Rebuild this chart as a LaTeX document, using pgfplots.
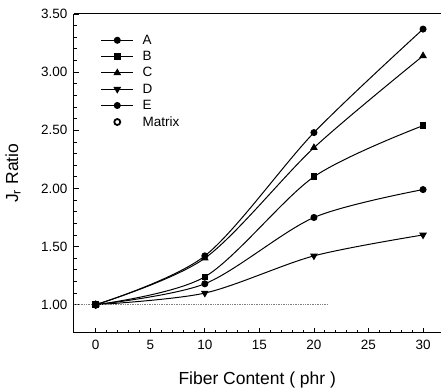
\documentclass[border=0pt]{standalone}
\usepackage{pgfplots}
\pgfplotsset{compat=1.18}
\usepackage{fontspec}
\setmainfont{Liberation Sans}
\pgfplotsset{
  linelegend/.style={legend image code/.code={\draw[mark repeat=2,mark phase=2,##1] plot coordinates {(0cm,0cm) (0.56cm,0cm) (1.12cm,0cm)};}},
  marklegend/.style={legend image code/.code={\draw[##1] plot coordinates {(0.56cm,0cm)};}},
}
\begin{document}
\begin{tikzpicture}
\begin{axis}[
  name=ax,
  scale only axis,
  width=367pt, height=319pt,
  xmin=-2.0, xmax=31.6,
  ymin=0.76, ymax=3.5,
  clip=true,
  axis x line*=box, axis y line*=left,
  xtick pos=bottom, ytick pos=left,
  tick align=inside,
  xtick={0,5,...,30},
  ytick={1,1.5,...,3.5},
  minor x tick num=4, minor y tick num=4,
  major tick length=5pt, minor tick length=3pt,
  every tick/.style={black, line width=0.8pt},
  every minor tick/.style={black, line width=0.8pt},
  axis line style={line width=1pt},
  /pgf/number format/assume math mode=true,
  yticklabel style={/pgf/number format/fixed, /pgf/number format/fixed zerofill, /pgf/number format/precision=2, xshift=-3pt},
  ticklabel style={font=\fontsize{13.5}{15}\selectfont},
  xticklabel style={yshift=-4pt},
  xlabel={Fiber Content ( phr )},
  ylabel={J$_{\mathrm{r}}$ Ratio},
  label style={font=\fontsize{17.5}{20}\selectfont},
  xlabel style={at={(axis description cs:0.5,-0.15)}, anchor=center},
  ylabel style={at={(axis description cs:-0.166,0.5)}, anchor=center},
  legend style={draw=none, fill=none, at={(0.073,0.935)}, anchor=north west,
    font=\fontsize{13.5}{15}\selectfont, row sep=5.5pt, inner sep=0pt,
    nodes={inner sep=0pt},
    /tikz/every odd column/.append style={column sep=9pt}},
  legend cell align=left,
  linelegend,
]
\addplot[black, line width=1pt, smooth, mark=*, mark size=3pt, mark options={solid, fill=black}] coordinates {(0,1.00) (10,1.42) (20,2.48) (30,3.37)};
\addlegendentry{A}
\addplot[black, line width=1pt, smooth, mark=square*, mark size=2.8pt, mark options={solid, fill=black}] coordinates {(0,1.00) (10,1.24) (20,2.10) (30,2.54)};
\addlegendentry{B}
\addplot[black, line width=1pt, smooth, mark=triangle*, mark size=3.5pt, mark options={solid, fill=black}] coordinates {(0,1.00) (10,1.40) (20,2.35) (30,3.14)};
\addlegendentry{C}
\addplot[black, line width=1pt, smooth, mark=triangle*, mark size=3.5pt, mark options={solid, fill=black, rotate=180}] coordinates {(0,1.00) (10,1.10) (20,1.42) (30,1.60)};
\addlegendentry{D}
\addplot[black, line width=1pt, smooth, mark=*, mark size=3pt, mark options={solid, fill=black}] coordinates {(0,1.00) (10,1.18) (20,1.75) (30,1.99)};
\addlegendentry{E}
\addplot[forget plot, densely dotted, gray, line width=0.7pt] coordinates {(-2,1.00) (21.3,1.00)};
\addplot[black, only marks, mark=o, mark size=3pt, mark options={solid, line width=1.8pt, fill=white}, marklegend] coordinates {(0,1.00)};
\addlegendentry{Matrix}
\end{axis}
\path[use as bounding box] ([shift={(-74pt,-57pt)}]ax.south west) rectangle ([shift={(367pt,333pt)}]ax.south west);
\end{tikzpicture}
\end{document}
